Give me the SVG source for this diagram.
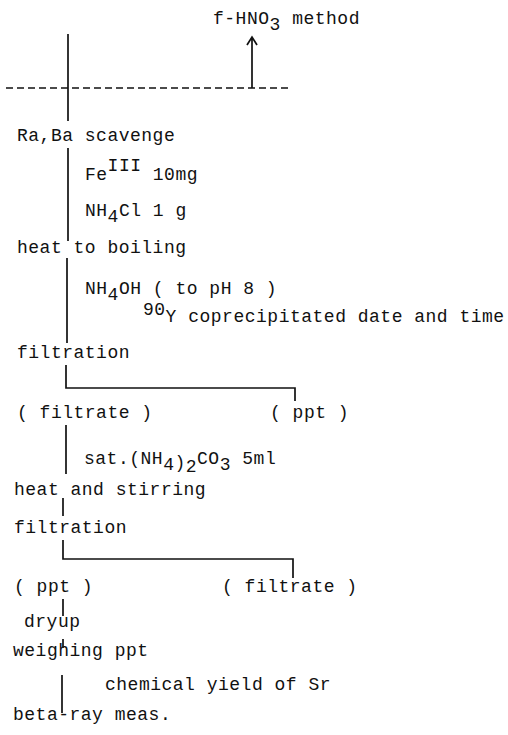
<svg xmlns="http://www.w3.org/2000/svg" width="508" height="735" viewBox="0 0 508 735">
<style>
text{font-family:"Liberation Mono","Courier New",monospace;font-size:18px;letter-spacing:0.5px;fill:#111}
.ln{stroke:#111;stroke-width:1.7;fill:none}
.ds{stroke:#111;stroke-width:1.4;stroke-dasharray:7 4;fill:none}
</style>
<rect width="508" height="735" fill="#fff"/>
<g id="connectors">
<line class="ds" x1="6" y1="88" x2="290" y2="88"/>
<path class="ln" d="M252 88 V37 M247 45 L252 37 L257 45"/>
<line class="ln" x1="68" y1="34" x2="68" y2="121"/>
<line class="ln" x1="68" y1="148" x2="68" y2="241"/>
<line class="ln" x1="67" y1="258" x2="67" y2="343"/>
<path class="ln" d="M66 365 V388 H295 V401"/>
<line class="ln" x1="66" y1="425" x2="66" y2="474"/>
<line class="ln" x1="63" y1="498" x2="63" y2="516"/>
<path class="ln" d="M63 540 V559 H293 V578"/>
<line class="ln" x1="63" y1="599" x2="63" y2="616"/>
<line class="ln" x1="63" y1="639" x2="63" y2="648"/>
<line class="ln" x1="62" y1="675" x2="62" y2="713"/>
</g>
<g id="n-hno3"><text x="213" y="24">f-HNO<tspan dy="6">3</tspan><tspan dy="-6"> method</tspan></text></g>
<g id="n-scavenge"><text x="17" y="141">Ra,Ba scavenge</text></g>
<g id="n-fe"><text x="85" y="180">Fe<tspan dy="-9">III</tspan><tspan dy="9"> 10mg</tspan></text></g>
<g id="n-nh4cl"><text x="85" y="216">NH<tspan dy="6">4</tspan><tspan dy="-6">Cl  1 g</tspan></text></g>
<g id="n-boil"><text x="17" y="253">heat to boiling</text></g>
<g id="n-nh4oh"><text x="85" y="294">NH<tspan dy="6">4</tspan><tspan dy="-6">OH ( to pH 8 )</tspan></text></g>
<g id="n-90y"><text x="143" y="315">90<tspan dy="7">Y coprecipitated date and time</tspan></text></g>
<g id="n-filt1"><text x="17" y="358">filtration</text></g>
<g id="n-filtrate1"><text x="17" y="418">( filtrate )</text></g>
<g id="n-ppt1"><text x="270" y="418">( ppt )</text></g>
<g id="n-sat"><text x="84" y="464">sat.(NH<tspan dy="6">4</tspan><tspan dy="-2">)</tspan><tspan dy="4">2</tspan><tspan dy="-8">CO</tspan><tspan dy="6">3</tspan><tspan dy="-6"> 5ml</tspan></text></g>
<g id="n-stir"><text x="14" y="495">heat and stirring</text></g>
<g id="n-filt2"><text x="14" y="533">filtration</text></g>
<g id="n-ppt2"><text x="14" y="592">( ppt )</text></g>
<g id="n-filtrate2"><text x="222" y="592">( filtrate )</text></g>
<g id="n-dryup"><text x="24" y="627">dryup</text></g>
<g id="n-weigh"><text x="13" y="656">weighing ppt</text></g>
<g id="n-yield"><text x="105" y="690">chemical yield of Sr</text></g>
<g id="n-beta"><text x="13" y="720">beta-ray meas.</text></g>
</svg>
